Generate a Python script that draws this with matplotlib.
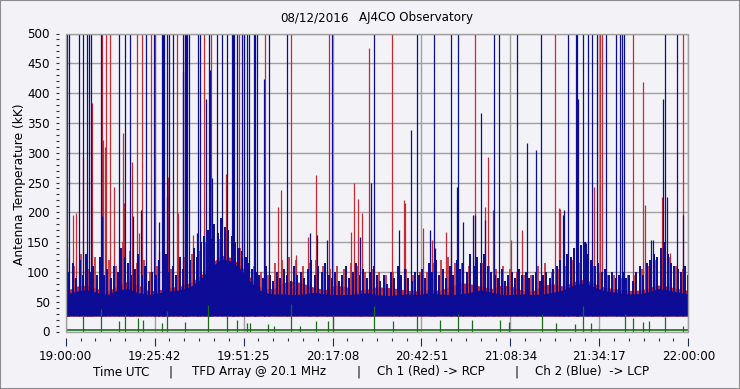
import numpy as np
import matplotlib.pyplot as plt
from matplotlib.patches import Rectangle

title_date = "08/12/2016"
title_site = "AJ4CO Observatory"
y_label = "Antenna Temperature (kK)"
x_tick_labels = ["19:00:00", "19:25:42", "19:51:25", "20:17:08",
                 "20:42:51", "21:08:34", "21:34:17", "22:00:00"]
footer = ["Time UTC", "|", "TFD Array @ 20.1 MHz", "|",
          "Ch 1 (Red) -> RCP", "|", "Ch 2 (Blue)  -> LCP"]

# time in minutes after 19:00:00 UTC, temperature in kK
floor_level = 26

# solid lower part of the two channels, every 3 minutes
env_t = np.arange(0, 181, 3)
blue_core = [62, 68, 70, 66, 62, 70, 72, 65, 62, 65, 68, 70, 75, 88, 108, 122,
             118, 102, 80, 66, 63, 63, 62, 63, 66, 63, 62, 62, 63, 65, 62, 60,
             62, 63, 62, 65, 63, 62, 63, 66, 70, 66, 62, 62, 63, 62, 63, 66,
             70, 78, 82, 74, 68, 66, 63, 63, 66, 72, 70, 66, 63]
red_core = [68, 76, 78, 72, 68, 76, 85, 78, 68, 70, 74, 76, 82, 94, 114, 128,
            124, 108, 86, 72, 72, 82, 85, 80, 74, 70, 78, 75, 69, 71, 75, 74,
            72, 69, 68, 71, 69, 75, 82, 80, 76, 72, 78, 76, 69, 68, 78, 80,
            76, 84, 88, 80, 74, 72, 69, 69, 72, 78, 76, 72, 69]

# local maxima of the noisy part: blue every minute, red every 2 minutes
blue_peak_t = np.arange(0, 181, 1)
blue_peak = [140, 100, 115, 90, 120, 95, 130, 100, 110, 95, 125,
             95, 105, 90, 110, 100, 140, 125, 115, 95, 105,
             130, 95, 110, 85, 100, 95, 120, 105, 130, 100,
             110, 95, 125, 105, 130, 120, 140, 125, 150, 160,
             170, 155, 180, 165, 190, 175, 170, 160, 150, 140,
             135, 125, 115, 105, 100, 95, 90, 110, 95, 85,
             100, 90, 105, 95, 85, 110, 95, 100, 90, 105,
             120, 95, 110, 100, 115, 95, 90, 100, 85, 95,
             110, 90, 100, 115, 95, 105, 90, 100, 110, 95,
             85, 95, 80, 100, 90, 110, 95, 105, 90, 85,
             100, 95, 105, 90, 115, 100, 120, 95, 105, 90,
             110, 95, 120, 105, 115, 100, 130, 110, 125, 115,
             130, 110, 100, 95, 90, 105, 85, 95, 100, 90,
             105, 95, 100, 90, 95, 100, 85, 95, 100, 90,
             105, 110, 120, 115, 130, 125, 140, 130, 145, 150,
             130, 120, 110, 115, 100, 105, 95, 100, 90, 95,
             100, 90, 95, 85, 100, 110, 95, 115, 120, 130,
             125, 140, 150, 130, 115, 110, 105, 100, 110, 95]
red_peak_t = np.arange(0.5, 180, 2)
red_peak = [125, 110, 130, 105, 125, 115, 120, 110, 150, 135, 115, 120, 100,
            110, 125, 105, 115, 125, 130, 135, 150, 160, 155, 165, 150, 140,
            125, 110, 100, 95, 115, 120, 125, 120, 110, 115, 120, 110, 105, 110,
            105, 115, 110, 100, 105, 100, 95, 100, 110, 105, 95, 100, 100, 115,
            120, 125, 115, 115, 110, 120, 115, 110, 105, 110, 105, 100, 95, 95,
            110, 115, 100, 105, 110, 120, 115, 125, 110, 100, 95, 95, 90, 95,
            95, 105, 110, 120, 115, 125, 110, 105]

blue_spike_t = [0.52, 0.9, 3.76, 5.09, 6.24, 6.65, 7.40, 10.12, 15.50, 17.15,
                18.68, 23.21, 25.53, 27.84, 28.27, 28.51, 29.20, 29.86, 31.11,
                33.91, 34.35, 34.78, 35.21, 35.65, 38.25, 38.83, 41.43, 43.65,
                45.10, 46.55, 48.08, 48.37, 48.66, 49.44, 50.97, 51.46, 52.33,
                53.08, 54.44, 54.87, 55.30, 58.69, 63.89, 77.07, 89.13, 101.47,
                106.47, 111.39, 113.50, 123.91, 125.35, 130.56, 137.49, 145.21,
                147.44, 147.81, 149.64, 151.08, 152.24, 153.51, 156.29, 159.00,
                160.25, 160.83, 161.40, 173.35, 176.81,
                41.72, 40.47, 33.82, 57.42, 120.06, 148.19, 172.59, 133.27,
                136.05, 99.83, 113.04,
                10.58, 19.54, 26.60, 29.37, 37.87, 42.38, 88.18, 96.45, 105.32,
                114.95, 117.84, 143.86, 169.22, 178.38, 0.33, 21.7, 26.9, 70.6,
                72.7, 75.5, 85.2, 106.8, 118.4, 121.3, 144.1, 150.5, 169.7,
                173.8]
blue_spike_v = [500] * 67 + [438, 390, 435, 423, 367, 390, 390, 316, 305, 338,
                             243,
                             193, 193, 120, 226, 165, 257, 249, 170, 170, 183,
                             195, 195, 154, 195, 142, 204, 184, 165, 162, 154,
                             159, 140, 196, 187, 204, 148, 154, 226]

red_spike_t = [10.58, 11.74, 12.81, 20.53, 22.15, 24.57, 25.90, 32.26, 34.49,
               39.98, 41.92, 50.19, 57.62, 65.13, 76.12, 94.33, 118.41, 141.54,
               154.47, 154.96, 163.92, 178.55,
               87.77, 7.52, 166.81,
               2.02, 2.98, 4.91, 10.87, 11.36, 13.96, 16.48, 16.94, 19.08,
               21.19, 26.97, 29.57, 32.55, 36.72, 46.26, 50.88, 61.46, 62.16,
               66.49, 70.14, 72.28, 82.39, 83.43, 84.59, 85.57, 97.89, 103.21,
               109.94, 122.17, 123.62, 128.65, 132.0, 142.61, 152.64, 172.30,
               174.79, 98.0, 121.3, 142.9, 167.4, 111.4, 105.9, 0.33]
red_spike_v = [500] * 22 + [475, 383, 419,
                            195, 198, 293, 321, 310, 243, 333, 215, 285, 165,
                            134, 260, 198, 162, 265, 204, 209, 237, 128, 159,
                            263, 167, 249, 223, 198, 221, 173, 167, 293, 204,
                            154, 170, 207, 243, 226, 132, 215, 209, 206, 212,
                            151, 154, 125]

green_base = 2.5
green_spike_t = [5.09, 10.2, 15.5, 17.0, 21.0, 22.3, 27.8, 29.2, 34.5, 41.2,
                 46.5, 49.6, 52.3, 53.3, 58.6, 60.2, 65.0, 67.7, 72.4, 75.9,
                 77.2, 89.1, 94.5, 101.5, 108.2, 113.5, 117.4, 125.6, 128.2,
                 137.6, 141.7, 147.2, 149.6, 151.9, 161.7, 164.1, 166.8, 168.5,
                 173.3, 178.5]
green_spike_v = [27, 38, 18, 30, 22, 20, 14, 34, 16, 44, 26, 20, 14, 15, 12,
                 10, 46, 10, 18, 18, 28, 42, 18, 28, 20, 30, 20, 20, 16, 30, 14,
                 12, 43, 14, 30, 22, 16, 18, 24, 10]

blue = '#0c0c96'
red = '#c42a34'
green = '#1b6b1b'
grid_gray = '#a0a0a0'
bg = '#f3f3f7'

W, H = 740, 389
fig = plt.figure(figsize=(W / 100, H / 100), dpi=100, facecolor=bg)
ax = fig.add_axes([65.7 / W, 1 - 331.5 / H, 622.6 / W, 298 / H])
ax.set_facecolor(bg)

ax.fill_between(env_t, floor_level, red_core, color=red, lw=0, zorder=2)
ax.vlines(red_peak_t, floor_level, red_peak, color=red, lw=1.2, zorder=2)
ax.vlines(red_spike_t, floor_level, red_spike_v, color=red, lw=0.9, zorder=2)

ax.fill_between(env_t, floor_level, blue_core, color=blue, lw=0, zorder=3)
ax.vlines(blue_peak_t, floor_level, blue_peak, color=blue, lw=1.4, zorder=3)
ax.vlines(blue_spike_t, floor_level, blue_spike_v, color=blue, lw=0.9, zorder=3)

ax.axhline(green_base, color=green, lw=1.2, zorder=4)
ax.vlines(green_spike_t, 0, green_spike_v, color=green, lw=0.9, zorder=4)

major_t = np.linspace(0, 180, 8)
ax.set_xlim(0, 180)
ax.set_ylim(0, 500)
ax.set_xticks(major_t)
ax.set_xticklabels(x_tick_labels)
ax.set_xticks(np.linspace(0, 180, 43), minor=True)
ax.set_yticks(np.arange(0, 501, 50))
ax.set_yticks(np.arange(0, 501, 10), minor=True)

ax.set_axisbelow(True)
ax.grid(True, which='major', color=grid_gray, lw=1)
for side in ['top', 'right', 'left', 'bottom']:
    ax.spines[side].set_color('none')
ax.spines['left'].set_position(('outward', 5))
ax.spines['bottom'].set_position(('outward', 5))
ax.add_patch(Rectangle((0, 0), 1, 1, transform=ax.transAxes, fill=False,
                       ec=grid_gray, lw=1, zorder=5, clip_on=False))

ax.tick_params(axis='y', which='both', length=2.5, width=0.8, color='#333333',
               labelsize=8.6, pad=4)
ax.tick_params(axis='x', which='major', length=5.5, width=0.8, color='#1a2a5a',
               labelsize=8.6, pad=2.5)
ax.tick_params(axis='x', which='minor', length=2.5, width=0.8, color='#333333')

fig.text(20 / W, 1 - 184 / H, y_label, rotation=90, ha='center', va='center',
         fontsize=8.8)
fig.text(280 / W, 1 - 18 / H, title_date, ha='left', va='center', fontsize=8.6)
fig.text(359 / W, 1 - 18 / H, title_site, ha='left', va='center', fontsize=8.6)

footer_x = [92.7, 169, 191.7, 356, 376.7, 514, 535]
for x, s in zip(footer_x, footer):
    fig.text(x / W, 1 - 372 / H, s, ha='left', va='center', fontsize=8.6)

fig.add_artist(Rectangle((0, 0), 1, 1, transform=fig.transFigure, fill=False,
                         ec='#8c8c8c', lw=1.5))

fig.savefig('out.png', dpi=100, facecolor=bg)
